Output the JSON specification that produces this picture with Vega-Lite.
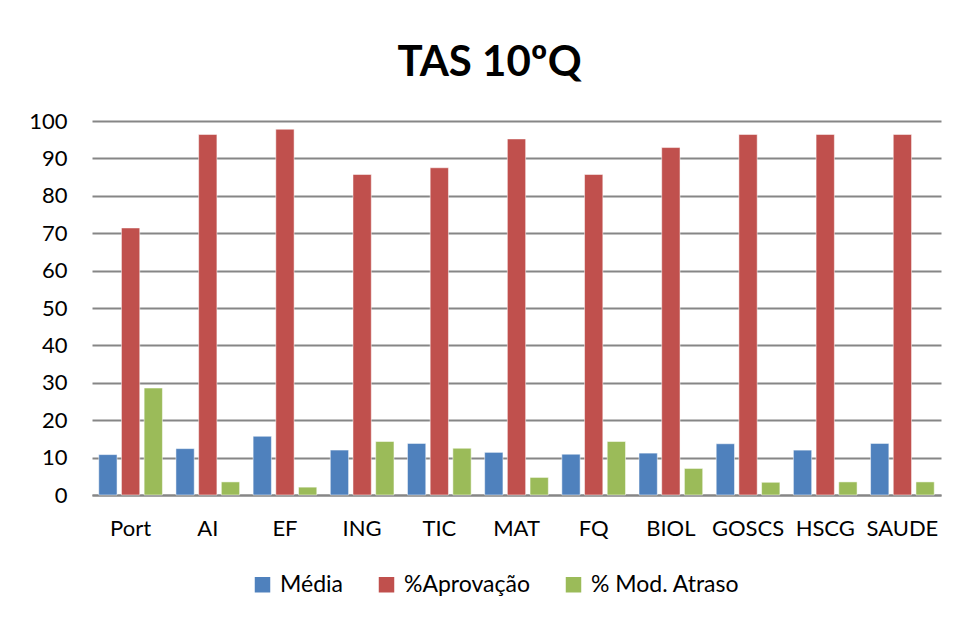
{
  "$schema": "https://vega.github.io/schema/vega-lite/v6.json",
  "width": 849,
  "height": 374,
  "autosize": "none",
  "padding": {"left": 92, "top": 121, "right": 16, "bottom": 123},
  "background": "white",
  "title": {
    "text": "TAS 10ºQ",
    "font": "Lato",
    "fontSize": 42,
    "fontWeight": "bold",
    "color": "#000000",
    "dx": -27,
    "offset": 25
  },
  "data": {
    "values": [
      {"disc": "Port", "serie": "Média", "valor": 10.8},
      {"disc": "Port", "serie": "%Aprovação", "valor": 71.4},
      {"disc": "Port", "serie": "% Mod. Atraso", "valor": 28.6},
      {"disc": "AI", "serie": "Média", "valor": 12.4},
      {"disc": "AI", "serie": "%Aprovação", "valor": 96.4},
      {"disc": "AI", "serie": "% Mod. Atraso", "valor": 3.5},
      {"disc": "EF", "serie": "Média", "valor": 15.7},
      {"disc": "EF", "serie": "%Aprovação", "valor": 97.8},
      {"disc": "EF", "serie": "% Mod. Atraso", "valor": 2.1},
      {"disc": "ING", "serie": "Média", "valor": 12.0},
      {"disc": "ING", "serie": "%Aprovação", "valor": 85.7},
      {"disc": "ING", "serie": "% Mod. Atraso", "valor": 14.3},
      {"disc": "TIC", "serie": "Média", "valor": 13.8},
      {"disc": "TIC", "serie": "%Aprovação", "valor": 87.5},
      {"disc": "TIC", "serie": "% Mod. Atraso", "valor": 12.5},
      {"disc": "MAT", "serie": "Média", "valor": 11.4},
      {"disc": "MAT", "serie": "%Aprovação", "valor": 95.2},
      {"disc": "MAT", "serie": "% Mod. Atraso", "valor": 4.7},
      {"disc": "FQ", "serie": "Média", "valor": 10.9},
      {"disc": "FQ", "serie": "%Aprovação", "valor": 85.7},
      {"disc": "FQ", "serie": "% Mod. Atraso", "valor": 14.3},
      {"disc": "BIOL", "serie": "Média", "valor": 11.2},
      {"disc": "BIOL", "serie": "%Aprovação", "valor": 92.9},
      {"disc": "BIOL", "serie": "% Mod. Atraso", "valor": 7.1},
      {"disc": "GOSCS", "serie": "Média", "valor": 13.7},
      {"disc": "GOSCS", "serie": "%Aprovação", "valor": 96.4},
      {"disc": "GOSCS", "serie": "% Mod. Atraso", "valor": 3.4},
      {"disc": "HSCG", "serie": "Média", "valor": 12.0},
      {"disc": "HSCG", "serie": "%Aprovação", "valor": 96.4},
      {"disc": "HSCG", "serie": "% Mod. Atraso", "valor": 3.5},
      {"disc": "SAUDE", "serie": "Média", "valor": 13.8},
      {"disc": "SAUDE", "serie": "%Aprovação", "valor": 96.4},
      {"disc": "SAUDE", "serie": "% Mod. Atraso", "valor": 3.5}
    ]
  },
  "mark": {"type": "bar", "stroke": "#ffffff", "strokeOpacity": 0.5, "strokeWidth": 1},
  "encoding": {
    "x": {
      "field": "disc",
      "type": "nominal",
      "sort": ["Port", "AI", "EF", "ING", "TIC", "MAT", "FQ", "BIOL", "GOSCS", "HSCG", "SAUDE"],
      "scale": {"paddingInner": 0.175, "paddingOuter": 0.0875},
      "axis": {
        "title": null,
        "labelAngle": 0,
        "labelFont": "Lato",
        "labelFontSize": 22,
        "labelColor": "#000000",
        "labelPadding": 23,
        "ticks": false,
        "domain": true,
        "domainColor": "#868686",
        "domainWidth": 2,
        "grid": false
      }
    },
    "xOffset": {
      "field": "serie",
      "type": "nominal",
      "sort": ["Média", "%Aprovação", "% Mod. Atraso"],
      "scale": {"paddingInner": 0.194, "paddingOuter": 0}
    },
    "y": {
      "field": "valor",
      "type": "quantitative",
      "scale": {"domain": [0, 100], "nice": false},
      "axis": {
        "title": null,
        "values": [0, 10, 20, 30, 40, 50, 60, 70, 80, 90, 100],
        "labelFont": "Lato",
        "labelFontSize": 22,
        "labelColor": "#000000",
        "labelPadding": 25,
        "ticks": false,
        "domain": false,
        "grid": true,
        "gridColor": "#868686",
        "gridWidth": 2
      }
    },
    "color": {
      "field": "serie",
      "type": "nominal",
      "sort": ["Média", "%Aprovação", "% Mod. Atraso"],
      "scale": {
        "domain": ["Média", "%Aprovação", "% Mod. Atraso"],
        "range": ["#4F81BD", "#C0504D", "#9BBB59"]
      },
      "legend": {
        "title": null,
        "orient": "none",
        "legendX": 159,
        "legendY": 452,
        "direction": "horizontal",
        "symbolType": "square",
        "symbolSize": 240,
        "symbolStrokeWidth": 0,
        "labelFont": "Lato",
        "labelFontSize": 23,
        "labelColor": "#000000",
        "labelOffset": 6,
        "columnPadding": 32
      }
    }
  },
  "config": {
    "view": {"stroke": null}
  }
}
